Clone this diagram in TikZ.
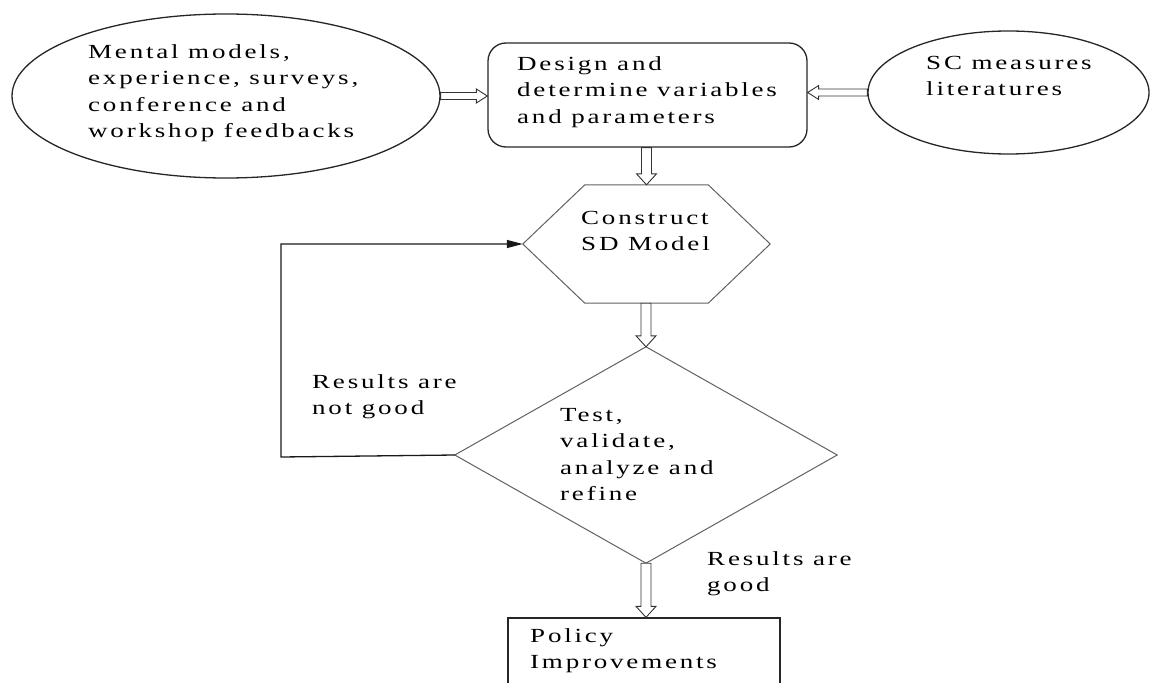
\documentclass[tikz,border=0pt]{standalone}
\usepackage{fontspec}
\setmainfont{Liberation Serif}[FakeStretch=1.35, LetterSpace=14]
\usetikzlibrary{calc,arrows.meta,shapes.geometric}

\begin{document}
\begin{tikzpicture}[x=1pt,y=-1pt,
  every node/.style={inner sep=0pt},
  txt/.style={anchor=north west, align=left, font=\fontsize{20}{26.5}\selectfont},
  outline/.style={draw=black!85, line width=1.3pt},
  edge/.style={draw=black!62, line width=1pt},
  backline/.style={draw=black!90, line width=1.3pt},
  hollow/.style n args={3}{draw=black!80, line width=0.9pt, fill=white,
    to path={
      ($(\tikztostart)!#1!90:(\tikztotarget)$)
      -- ($(\tikztotarget)!#3!(\tikztostart)!#1!-90:(\tikztostart)$)
      -- ($(\tikztotarget)!#3!(\tikztostart)!#2!-90:(\tikztostart)$)
      -- (\tikztotarget)
      -- ($(\tikztotarget)!#3!(\tikztostart)!#2!90:(\tikztostart)$)
      -- ($(\tikztotarget)!#3!(\tikztostart)!#1!90:(\tikztostart)$)
      -- ($(\tikztostart)!#1!-90:(\tikztotarget)$)
      -- cycle}},
  sidearrow/.style={hollow={3.5pt}{7pt}{11pt}},
  downarrow/.style={hollow={5pt}{10pt}{11pt}},
]
\clip (0,0) rectangle (1150,682);
\useasboundingbox (0,0) rectangle (1150,682);

% sources and the design step
\node[ellipse, outline, minimum width=428pt, minimum height=164pt] (src) at (226,96) {};
\node[ellipse, outline, minimum width=281pt, minimum height=123pt] (lit) at (1008.5,92.5) {};
\node[rectangle, outline, rounded corners=18pt, minimum width=319pt, minimum height=104pt] (design) at (647.5,95) {};

% model construction (hexagon)
\node[minimum width=247pt, minimum height=118pt] (hex) at (646.5,244) {};
\draw[edge] (hex.west) -- ($(hex.north west)+(62,0)$) -- ($(hex.north east)+(-62,0)$)
  -- (hex.east) -- ($(hex.south east)+(-62,0)$) -- ($(hex.south west)+(62,0)$) -- cycle;

% decision (diamond)
\node[minimum width=382pt, minimum height=216pt] (test) at (646,455) {};
\draw[edge] (test.north) -- (test.east) -- (test.south) -- (test.west) -- cycle;

% outcome box
\node[rectangle, outline, minimum width=272pt, minimum height=100pt] (policy) at (644,668) {};

% texts
\node[txt] (src-t) at (88,44) {Mental models,\\experience, surveys,\\conference and\\workshop feedbacks};
\node[txt] (design-t) at (517,56) {Design and\\determine variables\\and parameters};
\node[txt] (lit-t) at (926,56) {SC measures\\literatures};
\node[txt] (hex-t) at (581,211) {Construct\\SD Model};
\node[txt] (test-t) at (560,408) {Test,\\validate,\\analyze and\\refine};
\node[txt] (bad-t) at (312,374) {Results are\\not good};
\node[txt] (good-t) at (707,551) {Results are\\good};
\node[txt] (policy-t) at (530,628) {Policy\\Improvements};

% block arrows
\draw[sidearrow] (src.east) to (src.east -| design.west);
\draw[sidearrow] (lit.west) to (lit.west -| design.east);
\draw[downarrow] (design.south -| hex.north) to (hex.north);
\draw[downarrow] (hex.south -| test.north) to (test.north);
\draw[downarrow] (test.south) to (test.south |- policy.north);

% feedback loop
\coordinate (bend) at (281,457);
\draw[backline, -{Triangle[length=16pt,width=8pt]}] (test.west) -- (bend) |- (hex.west);
\end{tikzpicture}
\end{document}
